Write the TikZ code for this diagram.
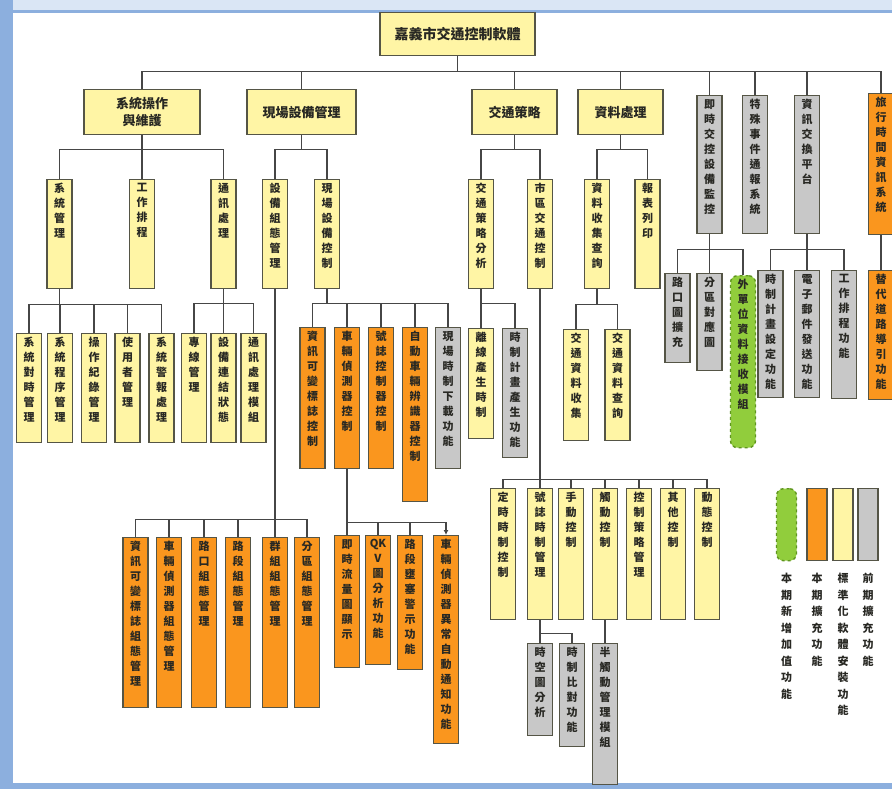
\documentclass[tikz,border=0pt]{standalone}
\usepackage{fontspec}
\setmainfont{Noto Sans CJK TC}
\usetikzlibrary{arrows.meta}
\definecolor{boxyellow}{RGB}{255,245,165}
\definecolor{boxorange}{RGB}{250,150,30}
\definecolor{boxgray}{RGB}{200,200,200}
\definecolor{boxgreen}{RGB}{145,205,60}
\definecolor{greenedge}{RGB}{95,150,30}
\definecolor{edgec}{RGB}{85,85,70}
\definecolor{linec}{RGB}{70,70,70}
\definecolor{textc}{RGB}{40,40,35}
\definecolor{framelt}{RGB}{218,230,245}
\definecolor{framebl}{RGB}{140,175,222}
% one character per line
\def\vtfirst#1{#1\vtrest}
\def\vtrest#1{\ifx#1\relax\else\\#1\expandafter\vtrest\fi}
\newcommand{\vtxt}[1]{\vtfirst#1\relax}

\begin{document}
\begin{tikzpicture}[x=1pt,y=-1pt,
  link/.style={draw=linec,line width=1.3pt},
  bx/.style={draw=edgec,line width=1.4pt,anchor=north,inner sep=0pt,minimum width=25pt},
  ylw/.style={bx,fill=boxyellow},
  org/.style={bx,fill=boxorange},
  gry/.style={bx,fill=boxgray},
  grn/.style={bx,fill=boxgreen,draw=greenedge,dashed,rounded corners=7pt},
  hbox/.style={ylw,font=\bfseries\fontsize{13}{17}\selectfont,align=center,text=textc},
  vlab/.style={anchor=north,inner sep=0pt,yshift=-4pt,align=center,font=\bfseries\fontsize{11}{15}\selectfont,text=textc},
  vcap/.style={label={[vlab]north:{\vtxt{#1}}}},
  legtext/.style={anchor=north,inner sep=0pt,align=center,font=\bfseries\fontsize{11}{16.5}\selectfont,text=textc}]
\useasboundingbox (0,0) rectangle (892,789);
% frame
\fill[framelt] (0,0) rectangle (892,789);
\fill[framebl] (0,0) rectangle (13,789);
\fill[framebl] (0,10) rectangle (892,13);
\fill[framebl] (0,783) rectangle (892,789);
\fill[white] (13,13) rectangle (892,783);

% root and first level
\node[hbox,minimum width=155pt,minimum height=43pt,font=\bfseries\fontsize{14}{17}\selectfont] (root) at (457.5,12) {嘉義市交通控制軟體};
\node[hbox,minimum width=116pt,minimum height=45pt] (sysop) at (142,89) {系統操作\\與維護};
\node[hbox,minimum width=109pt,minimum height=45pt] (field) at (301.5,89) {現場設備管理};
\node[hbox,minimum width=85pt,minimum height=45pt] (strat) at (514.5,89) {交通策略};
\node[hbox,minimum width=85pt,minimum height=45pt] (data) at (620.5,89) {資料處理};
\node[gry,minimum height=138pt,vcap=即時交控設備監控] (rtmon) at (709.5,95) {};
\node[gry,minimum height=138pt,vcap=特殊事件通報系統] (event) at (755,95) {};
\node[gry,minimum height=138pt,vcap=資訊交換平台] (exch) at (807,95) {};
\node[org,minimum height=141pt,vcap=旅行時間資訊系統] (travel) at (881,93) {};
\foreach \c in {sysop,field,strat,data,rtmon,event,exch,travel}
  \draw[link] (root.south) -- ++(0,15) -| (\c.north);

% second level
\node[ylw,minimum height=109pt,vcap=系統管理] (sysmgr) at (59.5,179) {};
\node[ylw,minimum height=109pt,vcap=工作排程] (jobsch) at (142,179) {};
\node[ylw,minimum height=109pt,vcap=通訊處理] (comm) at (223.5,179) {};
\node[ylw,minimum height=109pt,vcap=設備組態管理] (devcfg) at (275,179) {};
\node[ylw,minimum height=109pt,vcap=現場設備控制] (devctl) at (327,179) {};
\node[ylw,minimum height=109pt,vcap=交通策略分析] (stana) at (481,179) {};
\node[ylw,minimum height=109pt,vcap=市區交通控制] (urban) at (540,179) {};
\node[ylw,minimum height=109pt,vcap=資料收集查詢] (collect) at (597,179) {};
\node[ylw,minimum height=109pt,vcap=報表列印] (report) at (647.5,179) {};
\foreach \c in {sysmgr,jobsch,comm}
  \draw[link] (sysop.south) -- ++(0,14) -| (\c.north);
\foreach \c in {devcfg,devctl}
  \draw[link] (field.south) -- ++(0,14) -| (\c.north);
\foreach \c in {stana,urban}
  \draw[link] (strat.south) -- ++(0,14) -| (\c.north);
\foreach \c in {collect,report}
  \draw[link] (data.south) -- ++(0,14) -| (\c.north);

% system management
\node[ylw,minimum height=109pt,vcap=系統對時管理] (systime) at (29,333) {};
\node[ylw,minimum height=109pt,vcap=系統程序管理] (sysproc) at (60,333) {};
\node[ylw,minimum height=109pt,vcap=操作紀錄管理] (oplog) at (94,333) {};
\node[ylw,minimum height=109pt,vcap=使用者管理] (usermgr) at (127.5,333) {};
\node[ylw,minimum height=109pt,vcap=系統警報處理] (sysalarm) at (161.5,333) {};
\foreach \c in {systime,sysproc,oplog,usermgr,sysalarm}
  \draw[link] (sysmgr.south) -- ++(0,15) -| (\c.north);

% communication
\node[ylw,minimum height=109pt,vcap=專線管理] (leased) at (194,333) {};
\node[ylw,minimum height=109pt,vcap=設備連結狀態] (linkstat) at (223.5,333) {};
\node[ylw,minimum height=109pt,vcap=通訊處理模組] (commmod) at (253.5,333) {};
\foreach \c in {leased,linkstat,commmod}
  \draw[link] (comm.south) -- ++(0,14) -| (\c.north);

% field device control
\node[org,minimum height=141pt,vcap=資訊可變標誌控制] (cmsctl) at (312.5,327) {};
\node[org,minimum height=141pt,vcap=車輛偵測器控制] (vdctl) at (347,327) {};
\node[org,minimum height=141pt,vcap=號誌控制器控制] (sigctl) at (381,327) {};
\node[org,minimum height=174pt,vcap=自動車輛辨識器控制] (avictl) at (415,327) {};
\node[gry,minimum height=141pt,vcap=現場時制下載功能] (dload) at (448,327) {};
\foreach \c in {cmsctl,vdctl,sigctl,avictl,dload}
  \draw[link] (devctl.south) -- ++(0,14) -| (\c.north);

% strategy analysis
\node[ylw,minimum height=110pt,vcap=離線產生時制] (offline) at (481,328) {};
\node[gry,minimum height=129pt,vcap=時制計畫產生功能] (planfn) at (515,328) {};
\foreach \c in {offline,planfn}
  \draw[link] (stana.south) -- ++(0,14) -| (\c.north);

% data collection
\node[ylw,minimum height=111pt,vcap=交通資料收集] (tcollect) at (576,329) {};
\node[ylw,minimum height=111pt,vcap=交通資料查詢] (tquery) at (617.5,329) {};
\foreach \c in {tcollect,tquery}
  \draw[link] (collect.south) -- ++(0,15) -| (\c.north);

% real-time monitoring
\node[gry,minimum height=89pt,vcap=路口圖擴充] (junc) at (677.5,273) {};
\node[gry,minimum height=97pt,vcap=分區對應圖] (zone) at (709.5,273) {};
\node[grn,minimum height=172pt,vcap=外單位資料接收模組] (extrx) at (743,275) {};
\foreach \c in {junc,zone,extrx}
  \draw[link] (rtmon.south) -- ++(0,15) -| (\c.north);

% exchange platform
\node[gry,minimum height=127pt,vcap=時制計畫設定功能] (planset) at (770.5,270) {};
\node[gry,minimum height=127pt,vcap=電子郵件發送功能] (email) at (807,270) {};
\node[gry,minimum height=128pt,vcap=工作排程功能] (jobfn) at (844,270) {};
\foreach \c in {planset,email,jobfn}
  \draw[link] (exch.south) -- ++(0,15) -| (\c.north);

% travel time
\node[org,minimum height=129pt,vcap=替代道路導引功能] (altroute) at (881,270) {};
\draw[link] (travel.south) -- (altroute.north);

% urban traffic control
\node[ylw,minimum height=131pt,vcap=定時時制控制] (fixed) at (503,488) {};
\node[ylw,minimum height=131pt,vcap=號誌時制管理] (sigplan) at (540,488) {};
\node[ylw,minimum height=131pt,vcap=手動控制] (manual) at (571,488) {};
\node[ylw,minimum height=131pt,vcap=觸動控制] (actu) at (605,488) {};
\node[ylw,minimum height=131pt,vcap=控制策略管理] (ctlstrat) at (639,488) {};
\node[ylw,minimum height=131pt,vcap=其他控制] (other) at (673,488) {};
\node[ylw,minimum height=131pt,vcap=動態控制] (dyn) at (707,488) {};
\foreach \c in {fixed,sigplan,manual,actu,ctlstrat,other,dyn}
  \draw[link] (urban.south) -- ++(0,190) -| (\c.north);

\node[gry,minimum height=92pt,vcap=時空圖分析] (tsd) at (540,643) {};
\node[gry,minimum height=103pt,vcap=時制比對功能] (compare) at (572,643) {};
\foreach \c in {tsd,compare}
  \draw[link] (sigplan.south) -- ++(0,13) -| (\c.north);
\node[gry,minimum height=141pt,vcap=半觸動管理模組] (semi) at (605,643) {};
\draw[link] (actu.south) -- (semi.north);

% device configuration
\node[org,minimum height=170pt,vcap=資訊可變標誌組態管理] (cmscfg) at (135.5,537) {};
\node[org,minimum height=170pt,vcap=車輛偵測器組態管理] (vdcfg) at (169,537) {};
\node[org,minimum height=170pt,vcap=路口組態管理] (jctcfg) at (204,537) {};
\node[org,minimum height=170pt,vcap=路段組態管理] (segcfg) at (238,537) {};
\node[org,minimum height=170pt,vcap=群組組態管理] (grpcfg) at (275,537) {};
\node[org,minimum height=170pt,vcap=分區組態管理] (zonecfg) at (307,537) {};
\foreach \c in {cmscfg,vdcfg,jctcfg,segcfg,grpcfg,zonecfg}
  \draw[link] (devcfg.south) -- ++(0,230) -| (\c.north);

% detector functions
\node[org,minimum height=132pt,vcap=即時流量圖顯示] (flowdisp) at (347,535) {};
\node[org,minimum height=129pt,vcap={{QK}V圖分析功能}] (qkv) at (378,535) {};
\node[org,minimum height=134pt,vcap=路段壅塞警示功能] (congest) at (410,535) {};
\node[org,minimum height=208pt,vcap=車輛偵測器異常自動通知功能] (vdalarm) at (446,535) {};
\foreach \c in {flowdisp,qkv,congest}
  \draw[link] (vdctl.south) -- ++(0,53) -| (\c.north);
\draw[link,-{Latex[length=5pt,width=5pt]}] (vdctl.south) -- ++(0,53) -| (vdalarm.north);

% legend
\node[grn,minimum width=20pt,minimum height=72pt] (lgnew) at (786.5,488) {};
\node[org,minimum width=20pt,minimum height=72pt] (lgext) at (817,488) {};
\node[ylw,minimum width=20pt,minimum height=72pt] (lgstd) at (843,488) {};
\node[gry,minimum width=20pt,minimum height=72pt] (lgold) at (868,488) {};
\node[legtext] at (786.5,573) {\vtxt{本期新增加值功能}};
\node[legtext] at (817,573) {\vtxt{本期擴充功能}};
\node[legtext] at (843,573) {\vtxt{標準化軟體安裝功能}};
\node[legtext] at (868,573) {\vtxt{前期擴充功能}};
\end{tikzpicture}
\end{document}
